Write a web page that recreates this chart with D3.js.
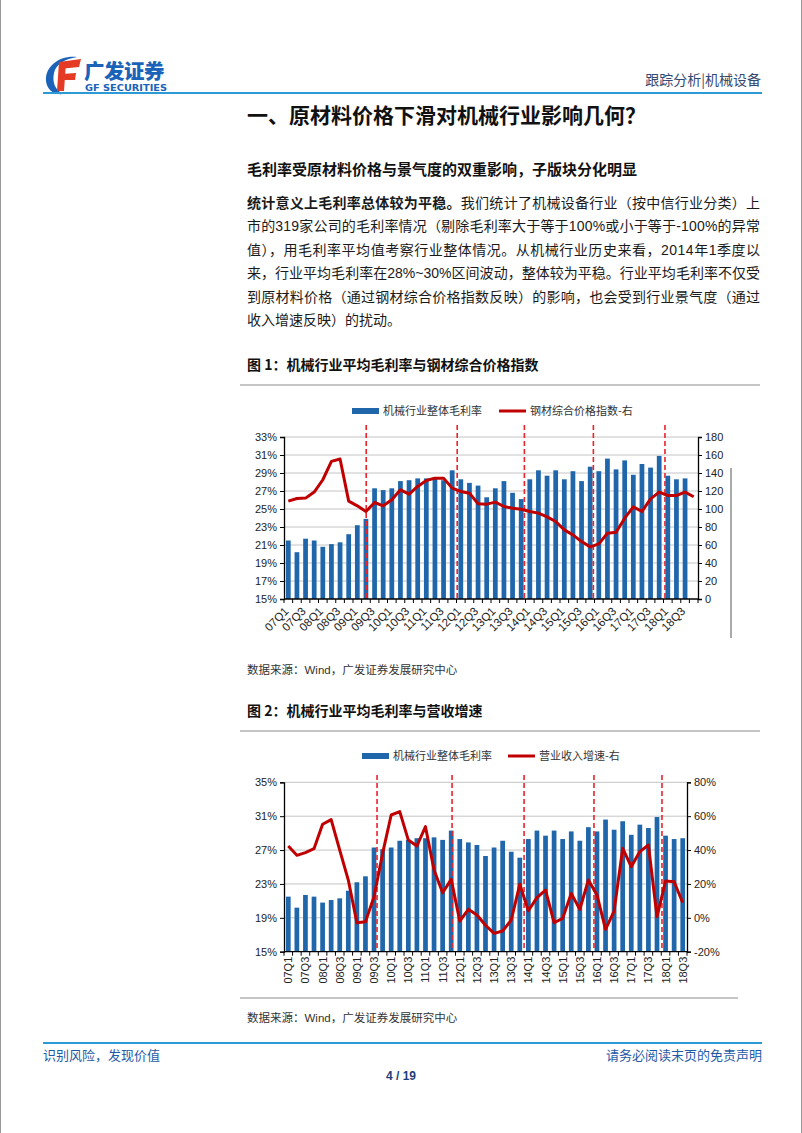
<!DOCTYPE html>
<html><head><meta charset="utf-8">
<script src="https://cdn.jsdelivr.net/npm/d3@7"></script>
<style>
html,body{margin:0;padding:0;background:#fff;}
svg{display:block;}
</style>
</head>
<body>
<svg id="page" width="802" height="1133"></svg>
<script>
// ---------------- DATA ----------------
const categories = ["07Q1","07Q2","07Q3","07Q4","08Q1","08Q2","08Q3","08Q4","09Q1","09Q2","09Q3","09Q4",
  "10Q1","10Q2","10Q3","10Q4","11Q1","11Q2","11Q3","11Q4","12Q1","12Q2","12Q3","12Q4",
  "13Q1","13Q2","13Q3","13Q4","14Q1","14Q2","14Q3","14Q4","15Q1","15Q2","15Q3","15Q4",
  "16Q1","16Q2","16Q3","16Q4","17Q1","17Q2","17Q3","17Q4","18Q1","18Q2","18Q3","18Q4"];
// 机械行业整体毛利率 (%), 07Q1–18Q3
const grossMargin = [21.5,20.2,21.7,21.5,20.8,21.1,21.3,22.2,23.2,23.9,27.3,27.1,27.3,28.1,28.2,28.4,
  28.4,28.5,28.2,29.3,28.3,27.9,27.6,26.3,27.3,28.1,26.8,26.1,28.3,29.3,28.7,29.3,
  28.3,29.2,28.1,29.7,29.2,30.6,29.4,30.4,28.8,30.0,29.6,30.9,28.7,28.3,28.4];
// 钢材综合价格指数 (right axis), 07Q1–18Q4
const steelIndex = [108.7,111.7,112.1,118.8,132.5,152.9,155.5,108.7,103.5,97.2,107.2,103.5,
  110.2,121.3,116.5,125.1,131.7,134.3,134.3,123.2,119.5,117.6,105.8,105.4,
  107.6,102.8,100.9,99.8,97.2,95.4,91.3,86.1,76.8,71.3,63.8,57.9,
  61.2,73.1,74.2,89.8,102.4,97.2,111.3,118.8,115.0,115.0,118.8,113.6];
// 营业收入增速 (%), 07Q1–18Q3
const revenueGrowth = [42.4,36.9,38.5,40.8,55.2,58.0,40.0,22.3,-2.9,-2.3,12.5,38.0,
  60.7,62.7,45.9,42.4,53.8,28.2,14.8,22.7,-1.9,5.0,1.7,-4.4,
  -9.2,-7.8,-1.3,19.8,4.2,11.9,16.4,-2.9,-0.3,14.4,5.0,22.3,
  13.5,-6.8,4.0,41.0,30.2,39.1,43.0,0.7,21.7,21.3,8.9];
// period marks (category index positions of dashed lines)
const periodMarks1 = [9.03,19.58,27.37,35.37,43.67];
const periodMarks2 = [10.35,19.1,27.5,35.65,43.58];
// tick values
const leftTicks1 = [15,17,19,21,23,25,27,29,31,33];
const rightTicks1 = [0,20,40,60,80,100,120,140,160,180];
const leftTicks2 = [15,19,23,27,31,35];
const rightTicks2 = [-20,0,20,40,60,80];
// series names
const seriesNames1 = ["机械行业整体毛利率","钢材综合价格指数-右"];
const seriesNames2 = ["机械行业整体毛利率","营业收入增速-右"];

// ---------------- STYLE ----------------
const BAR = "#1f66aa", LINE = "#c00000", DASH = "#e8252c", GRID = "#c4c4c4";
const CJK = "'Noto Sans CJK SC','Liberation Sans',sans-serif";
const LAT = "'Liberation Sans','Noto Sans CJK SC',sans-serif";

const svg = d3.select("#page");
svg.append("rect").attr("width",802).attr("height",1133).attr("fill","#fff");
svg.append("line").attr("x1",0.5).attr("x2",0.5).attr("y1",0).attr("y2",1133).attr("stroke","#9a9a9a");
svg.append("line").attr("x1",801.5).attr("x2",801.5).attr("y1",0).attr("y2",1133).attr("stroke","#9a9a9a");

// ---------------- HEADER ----------------
const logo = svg.append("g");
logo.append("path").attr("d","M77 57 C60 55 45 66 46 81 C47 90 54 95 63 94 C55 90 52 82 54 73 C56 64 65 59 77 57 Z").attr("fill","#1a63b8");
logo.append("path").attr("d","M59 62 L81 59 L79 67 L59 69 Z").attr("fill","#e53a24");
logo.append("path").attr("d","M59 62 L66 62 L64 91 L57 91 Z").attr("fill","#e53a24");
logo.append("path").attr("d","M62 74 L76 73 L75 80 L62 80 Z").attr("fill","#e53a24");
logo.append("text").attr("x",84).attr("y",79).attr("font-family",CJK).attr("font-weight",900)
  .attr("font-size",20.5).attr("fill","#1a63b8").attr("letter-spacing",-0.5).text("广发证券");
logo.append("text").attr("x",85).attr("y",91).attr("font-family","'DejaVu Sans',sans-serif").attr("font-weight",700)
  .attr("font-size",8.6).attr("fill","#1a63b8").attr("textLength",82).attr("lengthAdjust","spacingAndGlyphs").text("GF SECURITIES");
svg.append("text").attr("x",761).attr("y",85).attr("text-anchor","end").attr("font-family",CJK)
  .attr("font-size",14).attr("fill","#33496f").text("跟踪分析|机械设备");
svg.append("line").attr("x1",43).attr("x2",762).attr("y1",93).attr("y2",93).attr("stroke","#2b9ad6").attr("stroke-width",2);

// ---------------- TITLE / TEXT ----------------
svg.append("text").attr("x",247).attr("y",123).attr("font-family",CJK).attr("font-weight",700)
  .attr("font-size",21).attr("fill","#111").text("一、原材料价格下滑对机械行业影响几何？");
svg.append("text").attr("x",247).attr("y",175).attr("font-family",CJK).attr("font-weight",700)
  .attr("font-size",15).attr("fill","#111").text("毛利率受原材料价格与景气度的双重影响，子版块分化明显");

const paraLines = [
  [["统计意义上毛利率总体较为平稳。",700],["我们统计了机械设备行业（按中信行业分类）上",400]],
  [["市的319家公司的毛利率情况（剔除毛利率大于等于100%或小于等于-100%的异常",400]],
  [["值），用毛利率平均值考察行业整体情况。从机械行业历史来看，2014年1季度以",400]],
  [["来，行业平均毛利率在28%~30%区间波动，整体较为平稳。行业平均毛利率不仅受",400]],
  [["到原材料价格（通过钢材综合价格指数反映）的影响，也会受到行业景气度（通过",400]],
  [["收入增速反映）的扰动。",400]]
];
const paraY0 = 208, paraDy = 23.4, paraLeft = 247, paraRight = 760;
paraLines.forEach((parts,i)=>{
  const t = svg.append("text").attr("x",paraLeft).attr("y",paraY0+i*paraDy)
    .attr("font-family",LAT).attr("font-size",14).attr("fill","#1a1a1a");
  parts.forEach(p=>t.append("tspan").attr("font-weight",p[1]).text(p[0]));
  if (i < paraLines.length-1) {
    const w = t.node().getComputedTextLength();
    const n = t.node().textContent.length;
    t.attr("letter-spacing",(paraRight-paraLeft-w)/(n-1));
  }
});

// ---------------- CHART HELPERS ----------------
function caption(y, txt){
  svg.append("text").attr("x",247).attr("y",y).attr("font-family",CJK).attr("font-weight",700)
    .attr("font-size",14).attr("fill","#111").text(txt);
  svg.append("line").attr("x1",240).attr("x2",760).attr("y1",y+15).attr("y2",y+15).attr("stroke","#8c8c8c").attr("stroke-width",1.2);
}
function source(y){
  svg.append("text").attr("x",247).attr("y",y).attr("font-family",LAT)
    .attr("font-size",11.5).attr("fill","#333").text("数据来源：Wind，广发证券发展研究中心");
}
function legend(y, xStart, xSecond, names){
  const g = svg.append("g");
  g.append("rect").attr("x",xStart).attr("y",y-7).attr("width",27).attr("height",6).attr("fill",BAR);
  g.append("text").attr("x",xStart+31).attr("y",y).attr("font-family",CJK).attr("font-size",11).attr("fill","#333").text(names[0]);
  g.append("line").attr("x1",xSecond).attr("x2",xSecond+27).attr("y1",y-4).attr("y2",y-4).attr("stroke",LINE).attr("stroke-width",3);
  g.append("text").attr("x",xSecond+31).attr("y",y).attr("font-family",CJK).attr("font-size",11).attr("fill","#333").text(names[1]);
}

function drawChart(cfg){
  const g = svg.append("g");
  const x = d3.scaleBand().domain(cfg.cats).range([cfg.left,cfg.right]).paddingInner(0.45).paddingOuter(0.225);
  const cx = i => x(cfg.cats[0]) + x.bandwidth()/2 + i*x.step();
  const yL = d3.scaleLinear().domain(cfg.leftDomain).range([cfg.bottom,cfg.top]);
  const yR = d3.scaleLinear().domain(cfg.rightDomain).range([cfg.bottom,cfg.top]);

  // gridlines
  g.append("g").selectAll("line").data(cfg.leftTicks.slice(1)).join("line")
    .attr("x1",cfg.left).attr("x2",cfg.right).attr("y1",d=>yL(d)).attr("y2",d=>yL(d))
    .attr("stroke",GRID).attr("stroke-width",1);

  // bars
  g.append("g").selectAll("rect").data(cfg.bars).join("rect")
    .attr("x",(d,i)=>x(cfg.cats[i])).attr("width",x.bandwidth())
    .attr("y",d=>yL(d)).attr("height",d=>yL(cfg.leftDomain[0])-yL(d)).attr("fill",BAR);

  // dashed period lines
  g.append("g").selectAll("line").data(cfg.marks).join("line")
    .attr("x1",d=>cx(d)).attr("x2",d=>cx(d)).attr("y1",cfg.dashTop).attr("y2",cfg.bottom)
    .attr("stroke",DASH).attr("stroke-width",1.6).attr("stroke-dasharray","5,3");

  // line series
  const line = d3.line().x((d,i)=>cx(i)).y(d=>yR(d)).curve(d3.curveLinear);
  g.append("path").datum(cfg.line).attr("d",line).attr("fill","none")
    .attr("stroke",LINE).attr("stroke-width",3).attr("stroke-linejoin","round");

  // axes
  const axL = d3.axisLeft(yL).tickValues(cfg.leftTicks).tickSize(4).tickPadding(3).tickFormat(d=>d+"%");
  const axR = d3.axisRight(yR).tickValues(cfg.rightTicks).tickSize(4).tickPadding(3).tickFormat(cfg.rightFmt);
  const gl = g.append("g").attr("transform",`translate(${cfg.left},0)`).call(axL);
  const gr = g.append("g").attr("transform",`translate(${cfg.right},0)`).call(axR);
  [gl,gr].forEach(a=>{
    a.select(".domain").attr("stroke","#000").attr("stroke-width",1.3);
    a.selectAll(".tick line").attr("stroke","#000");
    a.selectAll(".tick text").attr("font-family",LAT).attr("font-size",11).attr("fill","#222");
  });
  // bottom axis line & ticks at boundaries
  g.append("line").attr("x1",cfg.left).attr("x2",cfg.right).attr("y1",cfg.bottom).attr("y2",cfg.bottom)
    .attr("stroke","#000").attr("stroke-width",1.3);
  const bounds = d3.range(cfg.cats.length+1);
  g.append("g").selectAll("line").data(bounds).join("line")
    .attr("x1",d=>cx(d)-x.step()/2).attr("x2",d=>cx(d)-x.step()/2)
    .attr("y1",cfg.bottom).attr("y2",cfg.bottom+4).attr("stroke","#000").attr("stroke-width",1);
  // x labels (every other)
  const labIdx = d3.range(0,cfg.cats.length,2);
  g.append("g").selectAll("text").data(labIdx).join("text")
    .attr("transform",i=>`translate(${cx(i)+cfg.labDx},${cfg.bottom+cfg.labDy}) rotate(${cfg.labRot})`)
    .attr("text-anchor","end").attr("font-family",LAT).attr("font-size",cfg.labSize).attr("fill","#222")
    .text(i=>cfg.cats[i]);
  return g;
}

// ---------------- FIGURE 1 ----------------
caption(370,"图 1：机械行业平均毛利率与钢材综合价格指数");
legend(415,352,499,seriesNames1);
drawChart({
  cats: categories, bars: grossMargin, line: steelIndex, marks: periodMarks1,
  left:284, right:698, top:437, bottom:599, dashTop:425,
  leftDomain:[15,33], rightDomain:[0,180], leftTicks:leftTicks1, rightTicks:rightTicks1,
  rightFmt: d=>d, labDx:1, labDy:13, labRot:-45, labSize:11.5
});
svg.append("line").attr("x1",731).attr("x2",731).attr("y1",468).attr("y2",638).attr("stroke","#555").attr("stroke-width",1);
source(674);

// ---------------- FIGURE 2 ----------------
caption(716,"图 2：机械行业平均毛利率与营收增速");
legend(760,362,508,seriesNames2);
drawChart({
  cats: categories.slice(0,47), bars: grossMargin, line: revenueGrowth, marks: periodMarks2,
  left:284, right:687, top:782.3, bottom:951.7, dashTop:775,
  leftDomain:[15,35], rightDomain:[-20,80], leftTicks:leftTicks2, rightTicks:rightTicks2,
  rightFmt: d=>d+"%", labDx:4, labDy:5, labRot:-90, labSize:11
});
svg.append("line").attr("x1",240).attr("x2",738).attr("y1",998).attr("y2",998).attr("stroke","#8c8c8c").attr("stroke-width",1.2);
source(1022);

// ---------------- FOOTER ----------------
svg.append("line").attr("x1",43).attr("x2",762).attr("y1",1043).attr("y2",1043).attr("stroke","#2b9ad6").attr("stroke-width",2);
svg.append("text").attr("x",43).attr("y",1060).attr("font-family",CJK).attr("font-size",13).attr("fill","#1f5aa6").text("识别风险，发现价值");
svg.append("text").attr("x",762).attr("y",1060).attr("text-anchor","end").attr("font-family",CJK).attr("font-size",13).attr("fill","#1f5aa6").text("请务必阅读末页的免责声明");
svg.append("text").attr("x",401).attr("y",1080).attr("text-anchor","middle").attr("font-family",LAT).attr("font-weight",700).attr("font-size",12).attr("fill","#1f3f7a").text("4 / 19");
</script>
</body></html>
